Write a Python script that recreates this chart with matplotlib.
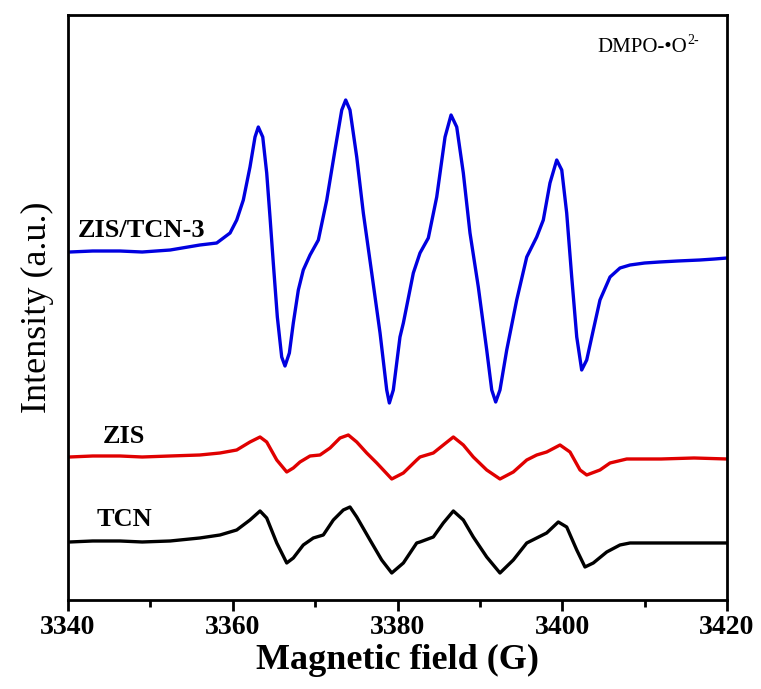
import matplotlib
matplotlib.use("Agg")
import matplotlib.pyplot as plt
from matplotlib.ticker import MultipleLocator

plt.rcParams['font.family'] = ['Liberation Serif', 'DejaVu Serif']

# ZIS/TCN-3 (blue) : field (G), intensity (a.u.)
b_field = [3340.2, 3343.0, 3346.3, 3349.0, 3352.4, 3356.0, 3358.05, 3359.67, 3360.48, 3361.28,
           3362.09, 3362.70, 3363.10, 3363.64, 3364.12, 3364.52, 3364.92, 3365.41, 3365.94, 3366.34,
           3366.87, 3367.35, 3367.96, 3368.56, 3369.38, 3370.39, 3371.41, 3372.41, 3373.23, 3373.71,
           3374.23, 3375.05, 3375.85, 3376.87, 3377.88, 3378.69, 3379.01, 3379.49, 3380.30, 3380.71,
           3381.92, 3382.73, 3383.74, 3384.76, 3385.77, 3386.50, 3387.19, 3387.99, 3388.80, 3389.81,
           3390.83, 3391.44, 3391.92, 3392.44, 3393.26, 3394.47, 3395.69, 3396.90, 3397.70, 3398.51,
           3399.33, 3399.94, 3400.54, 3401.15, 3401.76, 3402.36, 3402.97, 3403.77, 3404.58, 3405.80,
           3407.01, 3408.23, 3410.0, 3411.8, 3414.0, 3416.7, 3418.5, 3420.0]
b_int = [348, 349, 349, 348, 350, 355, 357, 367, 380, 400,
         433, 463, 473, 463, 427, 383, 337, 283, 243, 234,
         247, 277, 310, 330, 345, 360, 400, 450, 490, 500,
         490, 443, 387, 327, 267, 210, 197, 210, 263, 277,
         327, 347, 362, 403, 463, 485, 473, 427, 367, 313,
         250, 210, 198, 210, 250, 300, 343, 363, 380, 417,
         440, 430, 387, 323, 263, 230, 240, 270, 300, 323,
         332, 335, 337, 338, 339, 340, 341, 342]

# ZIS (red)
r_field = [3340.2, 3343.0, 3346.3, 3349.0, 3352.4, 3356.0, 3358.45, 3360.48, 3362.09, 3363.31,
           3364.12, 3365.34, 3366.55, 3367.35, 3368.16, 3369.38, 3370.59, 3371.81, 3373.02, 3374.03,
           3375.05, 3376.26, 3377.48, 3379.30, 3380.71, 3382.33, 3382.73, 3384.35, 3385.56, 3386.78,
           3387.99, 3389.20, 3390.83, 3392.44, 3394.06, 3395.69, 3396.90, 3398.11, 3399.73, 3400.94,
           3402.16, 3402.97, 3404.58, 3405.80, 3407.83, 3410.0, 3412.0, 3416.0, 3420.0]
r_int = [143, 144, 144, 143, 144, 145, 147, 150, 158, 163,
         158, 140, 128, 132, 138, 144, 145, 152, 162, 165,
         158, 147, 137, 121, 127, 140, 143, 147, 155, 163,
         155, 143, 130, 121, 128, 140, 145, 148, 155, 148,
         130, 125, 130, 137, 141, 141, 141, 142, 141]

# TCN (black)
k_field = [3340.2, 3343.0, 3346.3, 3349.0, 3352.4, 3356.0, 3358.45, 3360.48, 3362.09, 3363.31,
           3364.12, 3365.34, 3366.55, 3367.35, 3368.56, 3369.78, 3370.99, 3372.21, 3373.42, 3374.23,
           3375.05, 3376.66, 3378.08, 3379.30, 3380.71, 3382.33, 3382.73, 3384.35, 3385.56, 3386.78,
           3387.99, 3389.20, 3390.83, 3392.44, 3394.06, 3395.69, 3396.90, 3398.11, 3399.52, 3400.54,
           3401.76, 3402.76, 3403.77, 3405.40, 3407.01, 3408.23, 3410.0, 3412.0, 3416.0, 3420.0]
k_int = [58, 59, 59, 58, 59, 62, 65, 70, 80, 89,
         82, 57, 37, 42, 55, 62, 65, 80, 90, 93,
         83, 60, 40, 27, 37, 57, 58, 63, 77, 89,
         80, 63, 43, 27, 40, 57, 62, 67, 78, 73,
         50, 33, 37, 48, 55, 57, 57, 57, 57, 57]

labels = ['ZIS/TCN-3', 'ZIS', 'TCN']
colors = ['#0000E0', '#E00000', '#000000']

fig = plt.figure(figsize=(7.61, 6.89), dpi=100)
ax = fig.add_axes([0.0894, 0.1292, 0.8659, 0.849])

for xs, ys, c in [(b_field, b_int, colors[0]), (r_field, r_int, colors[1]), (k_field, k_int, colors[2])]:
    ax.plot(xs, ys, color=c, lw=2.4, solid_joinstyle='round', solid_capstyle='round')

ax.set_xlim(3340, 3420)
ax.set_ylim(0, 585)
ax.xaxis.set_major_locator(MultipleLocator(20))
ax.xaxis.set_minor_locator(MultipleLocator(10))
ax.tick_params(axis='x', which='major', direction='out', length=8, width=2, pad=3,
               labelsize=20)
ax.tick_params(axis='x', which='minor', direction='out', length=5, width=2)
ax.set_yticks([])
for lab in ax.get_xticklabels():
    lab.set_fontweight('bold')
for s in ax.spines.values():
    s.set_linewidth(2)

ax.set_xlabel('Magnetic field (G)', fontsize=26, fontweight='bold', labelpad=3)
ax.set_ylabel('Intensity (a.u.)', fontsize=26, labelpad=10)

ax.text(3341.2, 370, labels[0], fontsize=19, fontweight='bold', va='center', ha='left')
ax.text(3344.2, 163, labels[1], fontsize=19, fontweight='bold', va='center', ha='left')
ax.text(3343.5, 80, labels[2], fontsize=19, fontweight='bold', va='center', ha='left')

t = ax.text(3404.3, 553, 'DMPO-•O', fontsize=15, va='center', ha='left')
ax.annotate('2-', xy=(1.0, 0.85), xycoords=t, fontsize=10, va='center', ha='left')

fig.savefig('out.png', dpi=100)
